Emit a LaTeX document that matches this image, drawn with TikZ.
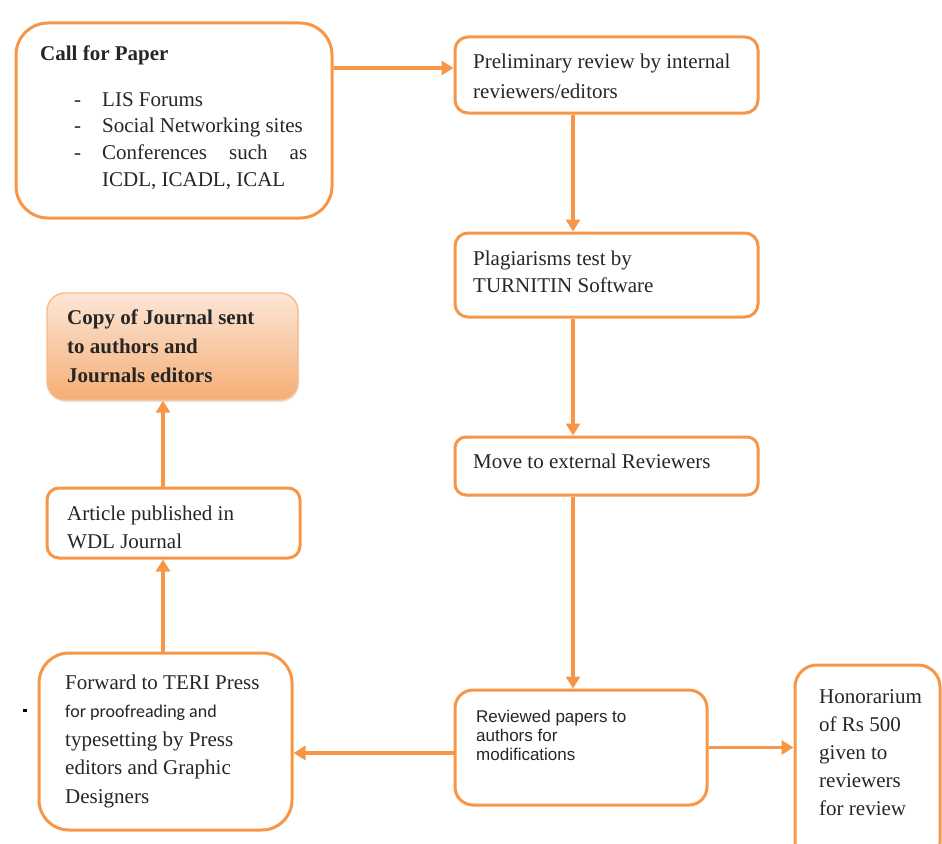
\documentclass[tikz,border=0pt]{standalone}
\usepackage{fontspec}
\setmainfont{Liberation Serif}
\newfontfamily\sansA{Liberation Sans}
\newfontfamily\calib{Carlito}
\usetikzlibrary{arrows.meta,shadows}
\definecolor{orng}{HTML}{F79646}
\definecolor{pale}{HTML}{FCE6D6}
\definecolor{deep}{HTML}{F5AE76}
\newcommand{\mylines}[1]{\begin{tabular}[t]{@{}l@{}}#1\end{tabular}}
\begin{document}
\begin{tikzpicture}[x=1pt,y=-1pt,
  box/.style={draw=orng, line width=3pt, fill=white, inner sep=0pt},
  txt/.style={anchor=base west, inner sep=0pt, text=black!85},
  arr/.style={draw=orng, line width=3.4pt, -{Triangle[length=12pt,width=14pt]}}]
\useasboundingbox (0,0) rectangle (942,843);

% boxes
\node[box, rounded corners=32pt, minimum width=316pt, minimum height=195pt] (call) at (174,120.5) {};
\node[box, rounded corners=13pt, minimum width=303pt, minimum height=76pt] (prelim) at (606.5,75) {};
\node[box, rounded corners=13pt, minimum width=303pt, minimum height=84pt] (plag) at (606.5,275) {};
\node[box, rounded corners=11pt, minimum width=303pt, minimum height=58pt] (move) at (606.5,466) {};
\node[box, rounded corners=18pt, minimum width=252pt, minimum height=115pt] (rev) at (581,747.5) {};
\node[box, rounded corners=22pt, minimum width=145pt, minimum height=200pt] (hon) at (867.5,765) {};
\node[box, rounded corners=30pt, minimum width=253pt, minimum height=177pt] (fwd) at (165.5,741.5) {};
\node[box, rounded corners=12pt, minimum width=253pt, minimum height=70pt] (art) at (173.5,523) {};
\node[box, draw=orng!65, line width=1.4pt, top color=pale, bottom color=deep,
      drop shadow={opacity=0.2, shadow xshift=1pt, shadow yshift=-2pt},
      rounded corners=18pt, minimum width=251pt, minimum height=107pt] (copy) at (172.5,346.5) {};

% texts
\node[txt, font=\bfseries\fontsize{21}{29}\selectfont] (tcall) at (40,61) {Call for Paper};
\node[txt, font=\fontsize{21}{26.7}\selectfont] (tlist) at (74,106)
  {\begin{tabular}[t]{@{}l@{\hspace{21pt}}l@{}}
   - & LIS Forums\\
   - & Social Networking sites\\
   - & \makebox[205pt][s]{Conferences such as}\\
     & ICDL, ICADL, ICAL
   \end{tabular}};
\node[txt, font=\fontsize{21}{30}\selectfont] (tpre) at (473,68) {\mylines{Preliminary review by internal\\reviewers/editors}};
\node[txt, font=\fontsize{21}{27}\selectfont] (tplag) at (473,265) {\mylines{Plagiarisms test by\\TURNITIN Software}};
\node[txt, font=\fontsize{21}{29}\selectfont] (tmove) at (473,468) {Move to external Reviewers};
\node[txt, font=\sansA\fontsize{17}{19}\selectfont] (trev) at (476,722) {\mylines{Reviewed papers to\\authors for\\modifications}};
\node[txt, font=\fontsize{21}{28}\selectfont] (thon) at (819,703) {\mylines{Honorarium\\of Rs 500\\given to\\reviewers\\for review}};
\node[txt, font=\fontsize{21}{28.5}\selectfont] (tfwd) at (65,689) {\mylines{Forward to TERI Press\\{\calib\fontsize{18}{28.5}\selectfont for proofreading and}\\typesetting by Press\\editors and Graphic\\Designers}};
\node[txt, font=\fontsize{21}{28}\selectfont] (tart) at (67,520) {\mylines{Article published in\\WDL Journal}};
\node[txt, font=\bfseries\fontsize{21}{29}\selectfont] (tcopy) at (67,324) {\mylines{Copy of Journal sent\\to authors and\\Journals editors}};

\node[fill=black, inner sep=0pt, minimum width=4pt, minimum height=3pt] (dot) at (25,710) {};

% connectors
\coordinate (p1) at ([yshift=7pt]prelim.west);
\draw[arr] (p1 -| call.east) -- (p1);
\coordinate (colx) at (573,0);
\draw[arr] (prelim.south -| colx) -- (plag.north -| colx);
\draw[arr] (plag.south -| colx) -- (move.north -| colx);
\draw[arr] (move.south -| colx) -- (rev.north -| colx);
\coordinate (q) at ([yshift=-5.5pt]rev.west);
\draw[arr] (q) -- (q -| fwd.east);
\draw[arr] (rev.east) -- (rev.east -| hon.west);
\coordinate (lcol) at (163,0);
\draw[arr] (fwd.north -| lcol) -- (art.south -| lcol);
\draw[arr] (art.north -| lcol) -- (copy.south -| lcol);
\end{tikzpicture}
\end{document}
